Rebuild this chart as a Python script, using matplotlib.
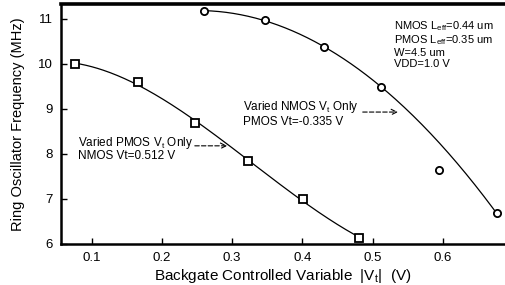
import numpy as np
import matplotlib
matplotlib.use("Agg")
import matplotlib.pyplot as plt

plt.rcParams['font.family'] = ['Liberation Sans', 'DejaVu Sans']
plt.rcParams['mathtext.default'] = 'regular'

pmos_x = [0.076, 0.166, 0.247, 0.323, 0.401, 0.480]
pmos_y = [10.00, 9.59, 8.69, 7.84, 7.00, 6.14]
nmos_x = [0.260, 0.347, 0.431, 0.512, 0.594, 0.677]
nmos_y = [11.17, 10.98, 10.38, 9.48, 7.64, 6.68]
nmos_fit_weight = [1, 1, 1, 1, 0.1, 1]
xticks = [0.1, 0.2, 0.3, 0.4, 0.5, 0.6]
yticks = [6, 7, 8, 9, 10, 11]

fig = plt.figure(figsize=(5.05, 2.85), dpi=100)
ax = fig.add_axes([0.1208, 0.1439, 0.8772, 0.8421])

# fitted curves
pc = np.polyfit(pmos_x, pmos_y, 3)
px = np.linspace(min(pmos_x), max(pmos_x), 200)
ax.plot(px, np.polyval(pc, px), color='black', lw=0.9)
nc = np.polyfit(nmos_x, nmos_y, 2, w=nmos_fit_weight)
nx = np.linspace(min(nmos_x), max(nmos_x), 200)
ax.plot(nx, np.polyval(nc, nx), color='black', lw=0.9)

ax.plot(pmos_x, pmos_y, 's', ms=6.2, mfc='white', mec='black', mew=1.3, zorder=3)
ax.plot(nmos_x, nmos_y, 'o', ms=5.2, mfc='white', mec='black', mew=1.3, zorder=3)

ax.set_xlim(0.0565, 0.687)
ax.set_ylim(6.0, 11.33)
ax.set_xticks(xticks)
ax.set_xticklabels(['0.1', '0.2', '0.3', '0.4', '0.5', '0.6'])
ax.set_yticks(yticks)
ax.tick_params(direction='in', length=4, width=1, labelsize=9.5, pad=6)
for s in ax.spines.values():
    s.set_linewidth(1.8)
ax.spines['top'].set_linewidth(2.6)
ax.spines['right'].set_visible(False)

ax.set_xlabel('Backgate Controlled Variable  |V$_t$|  (V)', fontsize=11, labelpad=2)
ax.set_ylabel('Ring Oscillator Frequency (MHz)', fontsize=10.5, labelpad=9)

fs = 8.5
ax.text(0.530, 11.0,
        'NMOS L$_{eff}$=0.44 um\nPMOS L$_{eff}$=0.35 um\nW=4.5 um\nVDD=1.0 V',
        fontsize=8, va='top', ha='left', linespacing=1.1)

ax.text(0.316, 9.04, 'Varied NMOS V$_t$ Only', fontsize=fs, va='center', ha='left')
ax.text(0.316, 8.70, 'PMOS Vt=-0.335 V', fontsize=fs, va='center', ha='left')
ax.annotate('', xy=(0.540, 8.93), xytext=(0.482, 8.93),
            arrowprops=dict(arrowstyle='->', lw=0.8, linestyle=(0, (4, 2)), color='black'))

ax.text(0.080, 8.25, 'Varied PMOS V$_t$ Only', fontsize=fs, va='center', ha='left')
ax.text(0.080, 7.96, 'NMOS Vt=0.512 V', fontsize=fs, va='center', ha='left')
ax.annotate('', xy=(0.297, 8.18), xytext=(0.243, 8.18),
            arrowprops=dict(arrowstyle='->', lw=0.8, linestyle=(0, (4, 2)), color='black'))

fig.savefig('out.png', dpi=100)
